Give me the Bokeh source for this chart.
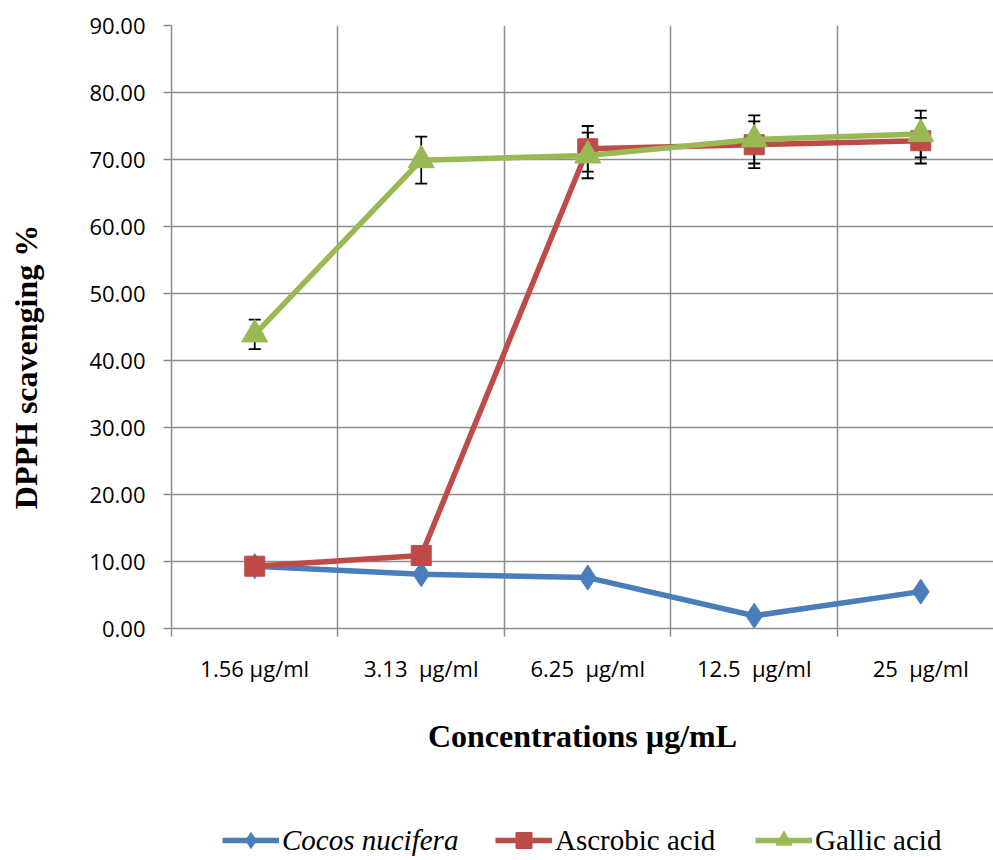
from bokeh.plotting import figure
from bokeh.layouts import column
from bokeh.models import (Range1d, FixedTicker, PrintfTickFormatter, Legend, LegendItem,
                          Whisker, TeeHead, ColumnDataSource)
from bokeh.embed import file_html
from bokeh.resources import INLINE

categories = ["1.56 µg/ml", "3.13\u00a0 µg/ml", "6.25\u00a0 µg/ml", "12.5\u00a0 µg/ml", "25\u00a0 µg/ml"]
cocos = [9.3, 8.1, 7.6, 1.9, 5.5]
ascorbic = [9.3, 10.9, 71.6, 72.2, 72.8]
gallic = [43.9, 69.9, 70.6, 73.0, 73.8]
ascorbic_err = [0.3, 0.3, 3.4, 3.5, 3.4]
gallic_err = [2.2, 3.5, 3.4, 3.6, 3.5]
y_ticks = [0, 10, 20, 30, 40, 50, 60, 70, 80, 90]
series_names = ["Cocos nucifera", "Ascrobic acid", "Gallic acid"]

BLUE = "#4A7EBB"
RED = "#BE4B48"
GREEN = "#98B954"
GRID = "#8C8C8C"

x = list(range(len(categories)))

p = figure(width=993, height=812, x_range=Range1d(-0.5, 4.437), y_range=Range1d(0, 90),
           output_backend="svg", toolbar_location=None,
           min_border_left=171, min_border_right=0, min_border_top=25, min_border_bottom=184)
p.outline_line_color = None
p.background_fill_color = "white"
p.border_fill_color = "white"

# axes
p.xaxis.ticker = FixedTicker(ticks=x, minor_ticks=[i - 0.5 for i in x] + [len(x) - 0.5])
p.xaxis.major_label_overrides = {i: c for i, c in enumerate(categories)}
p.xaxis.major_tick_out = 0
p.xaxis.major_tick_in = 0
p.xaxis.minor_tick_out = 8
p.xaxis.minor_tick_in = 0
p.xaxis.minor_tick_line_color = GRID
p.xaxis.minor_tick_line_width = 1.5
p.xaxis.axis_line_color = GRID
p.xaxis.axis_line_width = 1.5
p.xaxis.major_label_standoff = 16
p.xaxis.major_label_text_font = "Open Sans"
p.xaxis.major_label_text_font_size = "22px"
p.xaxis.major_label_text_color = "black"
p.xaxis.axis_label = "Concentrations µg/mL"
p.xaxis.axis_label_text_font = "Liberation Serif"
p.xaxis.axis_label_text_font_style = "bold"
p.xaxis.axis_label_text_font_size = "32px"
p.xaxis.axis_label_text_color = "black"
p.xaxis.axis_label_standoff = 32

p.yaxis.ticker = FixedTicker(ticks=y_ticks)
p.yaxis.formatter = PrintfTickFormatter(format="%.2f")
p.yaxis.major_tick_out = 8
p.yaxis.major_tick_in = 0
p.yaxis.minor_tick_out = 0
p.yaxis.minor_tick_in = 0
p.yaxis.major_tick_line_color = GRID
p.yaxis.major_tick_line_width = 1.5
p.yaxis.axis_line_color = GRID
p.yaxis.axis_line_width = 1.5
p.yaxis.major_label_standoff = 18
p.yaxis.major_label_text_font = "Open Sans"
p.yaxis.major_label_text_font_size = "22px"
p.yaxis.major_label_text_color = "black"
p.yaxis.axis_label = "DPPH scavenging %" + "\u00a0" * 10
p.yaxis.axis_label_text_font = "Liberation Serif"
p.yaxis.axis_label_text_font_style = "bold"
p.yaxis.axis_label_text_font_size = "32px"
p.yaxis.axis_label_text_color = "black"
p.yaxis.axis_label_standoff = 42

p.xgrid.ticker = FixedTicker(ticks=[i + 0.5 for i in x])
p.xgrid.grid_line_color = GRID
p.xgrid.grid_line_width = 1.5
p.ygrid.grid_line_color = GRID
p.ygrid.grid_line_width = 1.5

# error bars
for vals, errs in ((ascorbic, ascorbic_err), (gallic, gallic_err)):
    src = ColumnDataSource(dict(x=x, upper=[v + e for v, e in zip(vals, errs)],
                                lower=[v - e for v, e in zip(vals, errs)]))
    w = Whisker(source=src, base="x", upper="upper", lower="lower",
                line_color="black", line_width=1.8, level="underlay",
                upper_head=TeeHead(size=12, line_color="black", line_width=1.8),
                lower_head=TeeHead(size=12, line_color="black", line_width=1.8))
    p.add_layout(w)

styles = [(cocos, BLUE, "diamond", 25), (ascorbic, RED, "square", 20), (gallic, GREEN, "triangle", 26)]
for vals, col, mk, sz in styles:
    p.line(x, vals, line_color=col, line_width=5.5)
    p.scatter(x, vals, marker=mk, size=sz, fill_color=col, line_color=col)

# legend strip (separate figure whose frame is aligned with the main frame)
pl = figure(width=993, height=48, x_range=Range1d(-0.5, 4.437), y_range=Range1d(-1, 0),
            output_backend="svg", toolbar_location=None, min_border=0,
            x_axis_location=None, y_axis_location=None)
pl.outline_line_color = None
pl.grid.visible = False
legend_x = [51, 324, 584]
font_styles = ["italic", "normal", "normal"]
for (vals, col, mk, sz), name, lx, fs in zip(styles, series_names, legend_x, font_styles):
    # renderers reuse the series data; the y range of this strip hides them
    lr = pl.line(x, vals, line_color=col, line_width=5.5)
    mr = pl.scatter(x, vals, marker=mk, size=sz, fill_color=col, line_color=col)
    lg = Legend(items=[LegendItem(label=name, renderers=[lr, mr])], location=(lx, 0),
                orientation="horizontal", border_line_color=None,
                background_fill_alpha=0, padding=0, margin=0,
                glyph_width=57, glyph_height=40, label_height=40, label_standoff=3,
                label_text_font="Liberation Serif", label_text_font_size="29px",
                label_text_font_style=fs, label_text_color="black")
    pl.add_layout(lg)

open("out.html", "w").write(file_html(column(p, pl, spacing=0), INLINE))
